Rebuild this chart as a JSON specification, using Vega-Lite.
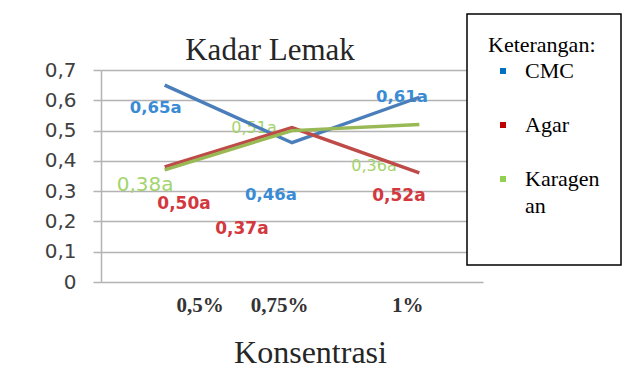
{
  "$schema": "https://vega.github.io/schema/vega-lite/v6.json",
  "width": 382,
  "height": 212,
  "autosize": {"type": "none"},
  "padding": {"left": 101, "top": 70, "right": 144, "bottom": 88},
  "background": "white",
  "title": {"text": "Kadar Lemak", "font": "Liberation Serif", "fontSize": 31, "fontWeight": "normal", "color": "#262626", "dx": -22, "dy": 86, "offset": 8, "baseline": "alphabetic"},
  "datasets": {
    "points": [
      {"seri": "CMC", "x": 1, "y": 0.65},
      {"seri": "CMC", "x": 2, "y": 0.46},
      {"seri": "CMC", "x": 3, "y": 0.61},
      {"seri": "Agar", "x": 1, "y": 0.38},
      {"seri": "Agar", "x": 2, "y": 0.51},
      {"seri": "Agar", "x": 3, "y": 0.36},
      {"seri": "Karagenan", "x": 1, "y": 0.37},
      {"seri": "Karagenan", "x": 2, "y": 0.50},
      {"seri": "Karagenan", "x": 3, "y": 0.52}
    ],
    "labels": [
      {"seri": "CMC", "x": 0.93, "y": 0.574, "teks": "0,65a"},
      {"seri": "CMC", "x": 1.835, "y": 0.287, "teks": "0,46a"},
      {"seri": "CMC", "x": 2.864, "y": 0.611, "teks": "0,61a"},
      {"seri": "Agar", "x": 1.152, "y": 0.258, "teks": "0,50a"},
      {"seri": "Agar", "x": 1.607, "y": 0.175, "teks": "0,37a"},
      {"seri": "Agar", "x": 2.84, "y": 0.284, "teks": "0,52a"},
      {"seri": "Karagenan", "x": 0.846, "y": 0.32, "teks": "0,38a"},
      {"seri": "Karagenan", "x": 1.702, "y": 0.508, "teks": "0,51a"},
      {"seri": "Karagenan", "x": 2.644, "y": 0.383, "teks": "0,36a"}
    ]
  },
  "encoding": {
    "x": {
      "field": "x", "type": "quantitative",
      "scale": {"domain": [0.5, 3.5], "nice": false, "zero": false},
      "axis": {
        "values": [1, 2, 3],
        "labelExpr": "datum.value == 1 ? '0,5%' : datum.value == 2 ? '0,75%' : '1%'",
        "domain": false, "ticks": false, "grid": false,
        "labelFont": "Liberation Serif", "labelFontWeight": "bold", "labelFontSize": 21, "labelColor": "#333333",
        "labelPadding": 12,
        "labelOffset": {"expr": "datum.value == 1 ? 35 : datum.value == 2 ? -13 : -12"},
        "title": "Konsentrasi",
        "titleFont": "Liberation Serif", "titleFontSize": 32, "titleFontWeight": "normal", "titleColor": "#262626",
        "titleX": 209, "titleY": 80, "titleBaseline": "alphabetic", "titleAlign": "center", "titleAnchor": null
      }
    },
    "y": {
      "field": "y", "type": "quantitative",
      "scale": {"domain": [0, 0.7], "nice": false},
      "axis": {
        "values": [0, 0.1, 0.2, 0.3, 0.4, 0.5, 0.6, 0.7],
        "labelOverlap": false,
        "labelExpr": "datum.value == 0 ? '0' : replace(format(datum.value, '.1f'), '.', ',')",
        "title": null,
        "labelFont": "DejaVu Sans", "labelFontSize": 20, "labelColor": "#404040", "labelPadding": 17,
        "tickSize": 8, "tickColor": "#b3b3b3", "tickWidth": 1.5,
        "domainColor": "#b3b3b3", "domainWidth": 1.5,
        "grid": true, "gridColor": "#b3b3b3", "gridWidth": 1.5
      }
    }
  },
  "layer": [
    {
      "data": {"name": "labels"},
      "transform": [{"filter": "datum.seri == 'CMC'"}],
      "mark": {"type": "text", "font": "DejaVu Sans", "fontWeight": "bold", "fontSize": 16.5, "color": "#3a8bd6", "baseline": "middle", "align": "center"},
      "encoding": {"text": {"field": "teks"}}
    },
    {
      "data": {"name": "labels"},
      "transform": [{"filter": "datum.seri == 'Agar'"}],
      "mark": {"type": "text", "font": "DejaVu Sans", "fontWeight": "bold", "fontSize": 17, "color": "#d2383e", "baseline": "middle", "align": "center"},
      "encoding": {"text": {"field": "teks"}}
    },
    {
      "data": {"name": "labels"},
      "transform": [{"filter": "datum.seri == 'Karagenan' && datum.teks != '0,38a'"}],
      "mark": {"type": "text", "font": "DejaVu Sans", "fontWeight": "normal", "fontSize": 16, "color": "#a3d46c", "baseline": "middle", "align": "center"},
      "encoding": {"text": {"field": "teks"}}
    },
    {
      "data": {"name": "labels"},
      "transform": [{"filter": "datum.seri == 'Karagenan' && datum.teks == '0,38a'"}],
      "mark": {"type": "text", "font": "DejaVu Sans", "fontWeight": "normal", "fontSize": 20, "color": "#a3d46c", "baseline": "middle", "align": "center"},
      "encoding": {"text": {"field": "teks"}}
    },
    {
      "data": {"name": "points"},
      "mark": {"type": "line", "strokeWidth": 3.4},
      "encoding": {
        "color": {
          "field": "seri", "type": "nominal",
          "scale": {"domain": ["CMC", "Agar", "Karagenan"], "range": ["#4a7ebb", "#be4b48", "#98b954"]},
          "legend": {
            "orient": "none", "legendX": 366, "legendY": -56,
            "title": "Keterangan:\u00a0\u00a0\u00a0",
            "titleFont": "Liberation Serif", "titleFontSize": 22, "titleFontWeight": "normal", "titleColor": "black", "titlePadding": 3,
            "labelFont": "Liberation Serif", "labelFontSize": 22, "labelColor": "black",
            "labelExpr": "datum.label == 'Karagenan' ? ['Karagen', 'an', ''] : datum.label == 'Agar' ? '\u00a0\u00a0Agar' : datum.label",
            "symbolType": "square", "symbolSize": 36, "symbolOffset": 4, "labelOffset": 11,
            "rowPadding": 32, "padding": 21,
            "fillColor": "white", "strokeColor": "black",
            "encode": {
              "symbols": {"update": {"fill": {"signal": "datum.value == 'CMC' ? '#0070c0' : datum.value == 'Agar' ? '#c00000' : '#92d050'"}, "strokeWidth": {"value": 0}, "opacity": {"value": 1}}},
              "labels": {"update": {"lineHeight": {"value": 27}}}
            }
          }
        }
      }
    }
  ],
  "config": {
    "view": {"stroke": null},
    "legend": {"strokeWidth": 1.5}
  }
}
